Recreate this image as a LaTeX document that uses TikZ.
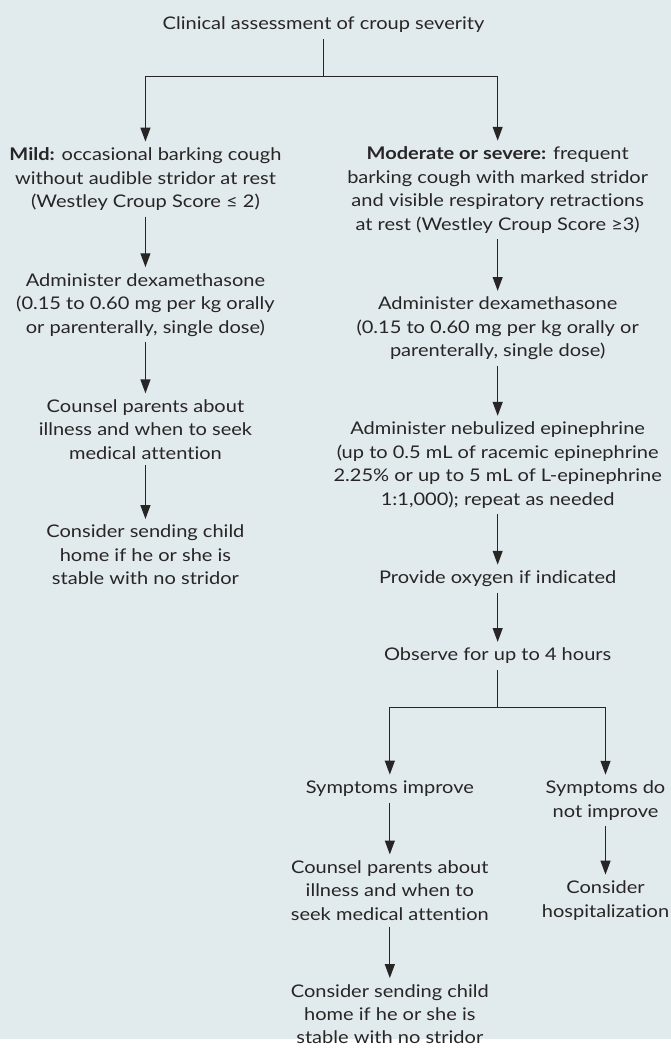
\documentclass[tikz,border=0pt]{standalone}
\usepackage{fontspec}
\setmainfont[FakeStretch=1.15,Ligatures=NoCommon]{Lato}
\usetikzlibrary{arrows.meta}
\definecolor{bgblue}{RGB}{225,234,237}
\definecolor{ink}{RGB}{40,37,38}

\begin{document}
\begin{tikzpicture}[x=1pt, y=1pt,
  box/.style={align=center, inner xsep=0pt, inner ysep=6pt, text=ink,
    font=\fontsize{17.6}{23.7}\selectfont},
  conn/.style={draw=ink, line width=1.3pt},
  arr/.style={conn, -{Triangle[length=14pt,width=10pt]}}]
  \fill[bgblue] (0,0) rectangle (678,-1050);

  \node[box] (assess) at (327,-25) {Clinical assessment of croup severity};
  \node[box] (mild) at (147,-181) {\textbf{Mild:} occasional barking cough\\without audible stridor at rest\\(Westley Croup Score ≤ 2)};
  \node[box] (severe) at (503,-192) {\textbf{Moderate or severe:} frequent\\barking cough with marked stridor\\and visible respiratory retractions\\at rest (Westley Croup Score ≥3)};

  \node[box] (dexL) at (147,-308) {Administer dexamethasone\\(0.15 to 0.60 mg per kg orally\\or parenterally, single dose)};
  \node[box] (counselL) at (147,-434) {Counsel parents about\\illness and when to seek\\medical attention};
  \node[box] (homeL) at (147,-561) {Consider sending child\\home if he or she is\\stable with no stridor};

  \node[box] (dexR) at (503,-332) {Administer dexamethasone\\(0.15 to 0.60 mg per kg orally or\\parenterally, single dose)};
  \node[box] (epi) at (503,-470) {Administer nebulized epinephrine\\(up to 0.5 mL of racemic epinephrine\\2.25\% or up to 5 mL of L-epinephrine\\1:1,000); repeat as needed};
  \node[box] (oxygen) at (503,-585) {Provide oxygen if indicated};
  \node[box] (observe) at (503,-663) {Observe for up to 4 hours};
  \node[box] (better) at (394,-797) {Symptoms improve};
  \node[box] (worse) at (612,-809) {Symptoms do\\not improve};
  \node[box] (counselR) at (394,-900) {Counsel parents about\\illness and when to\\seek medical attention};
  \node[box] (homeR) at (394,-1025) {Consider sending child\\home if he or she is\\stable with no stridor};
  \node[box] (hospital) at (612,-910) {Consider\\hospitalization};

  \coordinate (fork1) at (327,-77);
  \coordinate (fork2) at (503,-715);

  \draw[conn] (assess) -- (fork1);
  \draw[arr] (fork1) -| (mild);
  \draw[arr] (fork1) -| (severe);
  \draw[arr] (mild) -- (dexL);
  \draw[arr] (dexL) -- (counselL);
  \draw[arr] (counselL) -- (homeL);
  \draw[arr] (severe) -- (dexR);
  \draw[arr] (dexR) -- (epi);
  \draw[arr] (epi) -- (oxygen);
  \draw[arr] (oxygen) -- (observe);
  \draw[conn] (observe) -- (fork2);
  \draw[arr] (fork2) -| (better);
  \draw[arr] (fork2) -| (worse);
  \draw[arr] (better) -- (counselR);
  \draw[arr] (counselR) -- (homeR);
  \draw[arr] (worse) -- (hospital);
\end{tikzpicture}
\end{document}
